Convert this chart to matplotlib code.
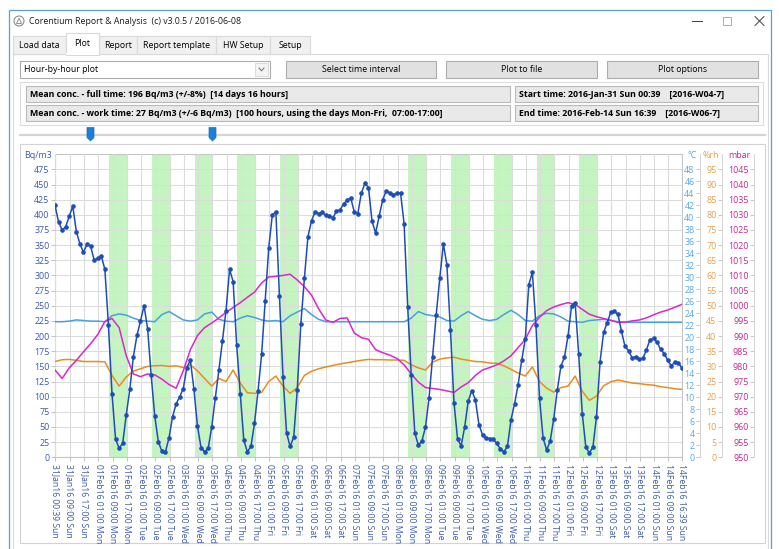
import matplotlib
matplotlib.use('Agg')
import matplotlib.pyplot as plt
from matplotlib.patches import Rectangle, Polygon, Circle
from datetime import datetime, timedelta

plt.rcParams['font.family'] = ['Open Sans', 'DejaVu Sans']

# ---------------- data ----------------
START = datetime(2016, 1, 31, 0, 39)
END = datetime(2016, 2, 14, 16, 39)
RADON_STEP_H = 2
CLIMATE_STEP_H = 4

radon = [416, 388, 375, 380, 398, 414, 372, 352, 338, 352, 348, 325,
         328, 332, 310, 218, 105, 30, 15, 23, 70, 112, 166, 201,
         225, 250, 212, 135, 68, 26, 10, 9, 32, 67, 88, 100,
         113, 148, 160, 112, 51, 16, 9, 15, 50, 98, 144, 192,
         242, 310, 290, 185, 105, 28, 9, 18, 56, 110, 170, 258,
         346, 400, 405, 266, 133, 40, 18, 33, 111, 220, 295, 364,
         390, 405, 402, 404, 399, 398, 395, 406, 408, 418, 424, 428,
         405, 402, 436, 452, 445, 389, 370, 398, 425, 440, 436, 433,
         436, 436, 385, 248, 135, 40, 20, 27, 50, 98, 166, 235,
         295, 352, 318, 210, 90, 30, 19, 50, 93, 110, 95, 54,
         37, 32, 31, 30, 23, 14, 9, 18, 62, 88, 120, 160,
         195, 285, 305, 218, 98, 32, 12, 27, 64, 111, 150, 165,
         200, 250, 255, 170, 72, 17, 7, 17, 67, 158, 206, 222,
         239, 241, 236, 208, 183, 176, 164, 166, 162, 163, 177, 194,
         196, 190, 178, 171, 160, 151, 157, 156, 147]

temperature = [22.6, 22.6, 22.7, 22.9, 22.8, 22.7, 22.7, 22.6, 23.6, 23.9, 23.7, 23.2,
               22.8, 22.7, 22.6, 23.8, 24.3, 23.6, 22.9, 22.7, 22.9, 23.9, 24.2, 23.0,
               22.7, 22.6, 23.2, 23.6, 23.3, 22.9, 22.7, 22.8, 22.6, 23.6, 24.2, 24.8,
               23.8, 23.0, 22.6, 22.6, 22.6, 22.6, 22.6, 22.6, 22.6, 22.6, 22.6, 22.6,
               22.6, 22.6, 23.2, 24.3, 23.8, 23.6, 23.4, 22.8, 22.7, 23.6, 24.3, 23.6,
               23.0, 22.8, 23.0, 23.8, 24.5, 23.8, 22.8, 22.7, 23.6, 24.0, 23.9, 23.4,
               22.7, 22.6, 22.5, 22.8, 22.9, 23.0, 22.8, 22.6, 22.5, 22.5, 22.5, 22.5,
               22.5, 22.5, 22.5, 22.5, 22.5]

humidity = [31.6, 32.2, 32.3, 32.0, 31.6, 31.6, 31.6, 31.5, 27.0, 23.5, 26.5, 28.5,
            29.2, 30.0, 30.2, 30.3, 30.0, 30.2, 29.6, 30.5, 28.5, 26.0, 23.5, 26.0,
            25.0, 28.8, 24.5, 21.3, 21.1, 21.4, 25.0, 26.8, 23.5, 21.1, 23.0, 27.0,
            28.4, 29.2, 29.8, 30.3, 30.8, 31.2, 31.6, 32.0, 32.3, 32.2, 32.2, 32.1,
            32.1, 32.0, 30.5, 29.5, 28.8, 31.4, 32.4, 32.8, 33.0, 32.4, 32.0, 31.6,
            31.5, 31.1, 31.0, 30.2, 29.0, 27.8, 26.8, 29.8, 25.0, 22.8, 21.5, 23.0,
            23.5, 26.8, 21.8, 18.8, 20.2, 23.6, 24.9, 25.5, 25.0, 24.5, 24.3, 24.0,
            23.8, 23.3, 23.0, 22.6, 22.4]

pressure = [978.8, 976.0, 979.5, 982.0, 984.8, 987.5, 990.5, 994.8, 995.8, 992.8, 983.5, 977.5,
            976.6, 977.5, 977.2, 975.8, 974.0, 972.8, 978.5, 985.5, 990.2, 992.8, 994.3, 996.0,
            997.8, 999.4, 1001.0, 1002.8, 1004.5, 1007.5, 1009.5, 1009.7, 1010.0, 1010.4, 1008.5, 1006.3,
            1003.5, 999.0, 995.3, 994.5, 995.8, 996.0, 991.0, 989.5, 988.9, 985.5, 984.5, 983.7,
            982.6, 980.5, 977.5, 974.8, 973.0, 972.7, 972.4, 971.9, 971.4, 973.2, 974.6, 977.0,
            978.8, 979.6, 980.5, 981.8, 983.5, 986.2, 988.9, 993.5, 996.2, 998.4, 999.6, 1000.4,
            1001.0, 1000.5, 998.8, 997.2, 996.4, 995.8, 995.2, 994.5, 994.6, 995.0, 995.3, 996.0,
            997.0, 997.9, 998.6, 999.5, 1000.5]

work_days = ['2016-02-01', '2016-02-02', '2016-02-03', '2016-02-04', '2016-02-05',
             '2016-02-08', '2016-02-09', '2016-02-10', '2016-02-11', '2016-02-12']
WORK_START_H, WORK_END_H = 7, 17

bq_ticks = list(range(0, 500, 25))
temp_ticks = list(range(0, 50, 2))
rh_ticks = list(range(0, 100, 5))
mbar_ticks = list(range(950, 1050, 5))

tab_names = ['Load data', 'Plot', 'Report', 'Report template', 'HW Setup', 'Setup']
button_names = ['Select time interval', 'Plot to file', 'Plot options']
info_left = ['Mean conc. - full time: 196 Bq/m3 (+/-8%)  [14 days 16 hours]',
             'Mean conc. - work time: 27 Bq/m3 (+/-6 Bq/m3)  [100 hours, using the days Mon-Fri,  07:00-17:00]']
info_right = ['Start time: 2016-Jan-31 Sun 00:39    [2016-W04-7]',
              'End time: 2016-Feb-14 Sun 16:39    [2016-W06-7]']
title_text = 'Corentium Report & Analysis  (c) v3.0.5 / 2016-06-08'
combo_text = 'Hour-by-hour plot'

# ---------------- styles ----------------
C_RADON = '#1d4db6'
C_TEMP = '#46a0e4'
C_RH = '#ec8c1c'
C_P = '#dc26cc'
C_BQ_LAB = '#3c5aa8'
C_T_LAB = '#55a8e2'
C_RH_LAB = '#e6a04e'
C_P_LAB = '#c8268e'
GRID = '#dcdcdc'
GREEN = '#c4f5c0'
UI_FS = 6.3
TICK_FS = 6.4

W, H = 779, 549
fig = plt.figure(figsize=(W / 100, H / 100), dpi=100)
fig.patch.set_facecolor('white')

# ---------------- window chrome ----------------
ui = fig.add_axes([0, 0, 1, 1], zorder=0)
ui.set_xlim(0, W)
ui.set_ylim(H, 0)
ui.axis('off')


def rect(x0, y0, x1, y1, fc='none', ec='none', lw=0.8, z=1):
    ui.add_patch(Rectangle((x0, y0), x1 - x0, y1 - y0, facecolor=fc,
                           edgecolor=ec, linewidth=lw, zorder=z))


rect(9, 10, 771, 560, fc='white', ec='#5d9fd6', lw=0.9, z=0)
ui.add_patch(Circle((19, 21), 5, facecolor='none', edgecolor='#808080', lw=0.7))
ui.add_patch(Polygon([(16.5, 23.5), (19, 18), (21.5, 23.5)], closed=True,
                     facecolor='none', edgecolor='#808080', lw=0.6))
ui.text(29, 21, title_text, fontsize=UI_FS, va='center', ha='left', color='#1a1a1a')
ui.plot([692, 702], [21, 21], color='#404040', lw=0.7)
rect(723, 16.5, 731, 24.5, ec='#a0a0a0', lw=0.6)
ui.plot([755, 764], [16.5, 25.5], color='#404040', lw=0.7)
ui.plot([755, 764], [25.5, 16.5], color='#404040', lw=0.7)

# tab page
rect(13, 54, 768, 560, fc='white', ec='#d9d9d9', lw=0.8)
tab_edges = [13, 66, 99, 137, 216, 270, 310]
for i, name in enumerate(tab_names):
    x0, x1 = tab_edges[i], tab_edges[i + 1]
    if name == 'Plot':
        rect(x0, 33, x1, 54.6, fc='white', ec='#d9d9d9', z=3)
        ui.plot([x0 + 0.6, x1 - 0.6], [54.4, 54.4], color='white', lw=1.4, zorder=4)
        ui.text((x0 + x1) / 2, 43, name, fontsize=UI_FS, ha='center', va='center', zorder=5)
    else:
        rect(x0, 36, x1, 54, fc='#f0f0f0', ec='#d9d9d9', z=2)
        ui.text((x0 + x1) / 2, 45.5, name, fontsize=UI_FS, ha='center', va='center', zorder=5)

# combobox
rect(20, 61, 270, 78, fc='white', ec='#acacac')
ui.text(24, 69.5, combo_text, fontsize=UI_FS, va='center', ha='left')
rect(255, 63, 268, 76, fc='#f4f4f4', ec='#d6d6d6', lw=0.6, z=2)
ui.plot([259, 261.5, 264], [68, 70.8, 68], color='#707070', lw=0.7, zorder=3)

# buttons
for (x0, x1), name in zip([(286, 436), (446, 597), (607, 758)], button_names):
    rect(x0, 61, x1, 78, fc='#e1e1e1', ec='#adadad')
    ui.text((x0 + x1) / 2, 69.5, name, fontsize=UI_FS, ha='center', va='center')

# info group
rect(20, 82, 763, 125, ec='#dddddd', lw=0.8)
for (y0, y1), txt in zip([(86, 102), (105, 121)], info_left):
    rect(26, y0, 510, y1, fc='#e9e9e9', ec='#bababa')
    ui.text(30, (y0 + y1) / 2, txt, fontsize=UI_FS, fontweight='bold', va='center', ha='left')
for (y0, y1), txt in zip([(86, 102), (105, 121)], info_right):
    rect(515, y0, 758, y1, fc='#e9e9e9', ec='#bababa')
    ui.text(519, (y0 + y1) / 2, txt, fontsize=UI_FS, fontweight='bold', va='center', ha='left')

# slider
ui.plot([20, 765], [135, 135], color='#d4d4d4', lw=1.6, zorder=2)
for xc in (90.5, 212.5):
    ui.add_patch(Polygon([(xc - 3.5, 127.5), (xc + 3.5, 127.5), (xc + 3.5, 137.5),
                          (xc, 141), (xc - 3.5, 137.5)], closed=True,
                         facecolor='#1a7fd8', edgecolor='#1a6fc0', lw=0.5, zorder=3))

# chart panel
rect(20, 144, 765, 543, fc='white', ec='#d3d3d3', lw=0.8)

# ---------------- chart ----------------
L, R, T, B = 55, 682, 154.2, 457.3
ax = fig.add_axes([L / W, 1 - B / H, (R - L) / W, (B - T) / H], zorder=1)
ax.set_facecolor('white')
ax.set_xlim(START, END)
ax.set_ylim(0, 500)

for d in work_days:
    day = datetime.strptime(d, '%Y-%m-%d')
    ax.axvspan(day + timedelta(hours=WORK_START_H), day + timedelta(hours=WORK_END_H),
               color=GREEN, lw=0, zorder=0.2)

first_tick = datetime(2016, 1, 31, 9, 0)
tick_times = [START] + [first_tick + timedelta(hours=8 * k) for k in range(43)] + [END]
tick_labels = [t.strftime('%d%b%y %H:%M %a') for t in tick_times]
ax.set_xticks(tick_times)
ax.set_xticklabels(tick_labels, rotation=270, ha='center', va='top')
ax.set_yticks(bq_ticks)
ax.grid(True, color=GRID, lw=0.8, zorder=0.5)
ax.set_axisbelow(False)
for gl in ax.get_xgridlines() + ax.get_ygridlines():
    gl.set_zorder(0.5)
ax.tick_params(axis='y', labelcolor=C_BQ_LAB, labelsize=TICK_FS, length=3,
               width=0.6, color='#b8b8b8', pad=1)
ax.tick_params(axis='x', labelcolor=C_BQ_LAB, labelsize=TICK_FS - 0.2, length=3,
               width=0.6, color='#b8b8b8', pad=1.5)
for s in ['left', 'bottom', 'top', 'right']:
    ax.spines[s].set_color('#c6c6c6')
    ax.spines[s].set_linewidth(0.8)


def twin(ylim, ticks, labcolor, xpix, z):
    a = ax.twinx()
    a.set_zorder(z)
    a.set_ylim(*ylim)
    a.set_yticks(ticks)
    a.yaxis.tick_left()
    a.spines['left'].set_position(('axes', (xpix - L) / (R - L)))
    a.spines['left'].set_visible(True)
    a.spines['left'].set_color('#d4d4d4')
    a.spines['left'].set_linewidth(0.7)
    for s in ['right', 'top', 'bottom']:
        a.spines[s].set_visible(False)
    a.tick_params(axis='y', labelcolor=labcolor, labelsize=TICK_FS, length=3,
                  width=0.6, color='#c0c0c0', pad=1)
    a.patch.set_visible(False)
    return a


axT = twin((0, 48 * 500 / 475), temp_ticks, C_T_LAB, 700, 2)
axH = twin((0, 100), rh_ticks, C_RH_LAB, 722, 3)
axP = twin((950, 1050), mbar_ticks, C_P_LAB, 754, 4)

clim_times = [START + timedelta(hours=CLIMATE_STEP_H * i) for i in range(len(temperature))]
axT.plot(clim_times, temperature, color=C_TEMP, lw=1.1)
clim_times_h = [START + timedelta(hours=CLIMATE_STEP_H * i) for i in range(len(humidity))]
axH.plot(clim_times_h, humidity, color=C_RH, lw=1.1)
clim_times_p = [START + timedelta(hours=CLIMATE_STEP_H * i) for i in range(len(pressure))]
axP.plot(clim_times_p, pressure, color=C_P, lw=1.1)

axR = ax.twinx()
axR.set_zorder(5)
axR.set_ylim(0, 500)
axR.set_yticks([])
for s in axR.spines.values():
    s.set_visible(False)
axR.patch.set_visible(False)
radon_times = [START + timedelta(hours=RADON_STEP_H * i) for i in range(len(radon))]
axR.plot(radon_times, radon, color=C_RADON, lw=1.1, marker='o', ms=2.3,
         mfc=C_RADON, mec=C_RADON)

# axis unit labels
ui.text(52, 155.5, 'Bq/m3', fontsize=TICK_FS, color=C_BQ_LAB, ha='right', va='center')
ui.text(697, 155.5, '°C', fontsize=TICK_FS, color=C_T_LAB, ha='right', va='center')
ui.text(719, 155.5, '%rh', fontsize=TICK_FS, color=C_RH_LAB, ha='right', va='center')
ui.text(751, 155.5, 'mbar', fontsize=TICK_FS, color=C_P_LAB, ha='right', va='center')

fig.savefig('out.png', dpi=100)
